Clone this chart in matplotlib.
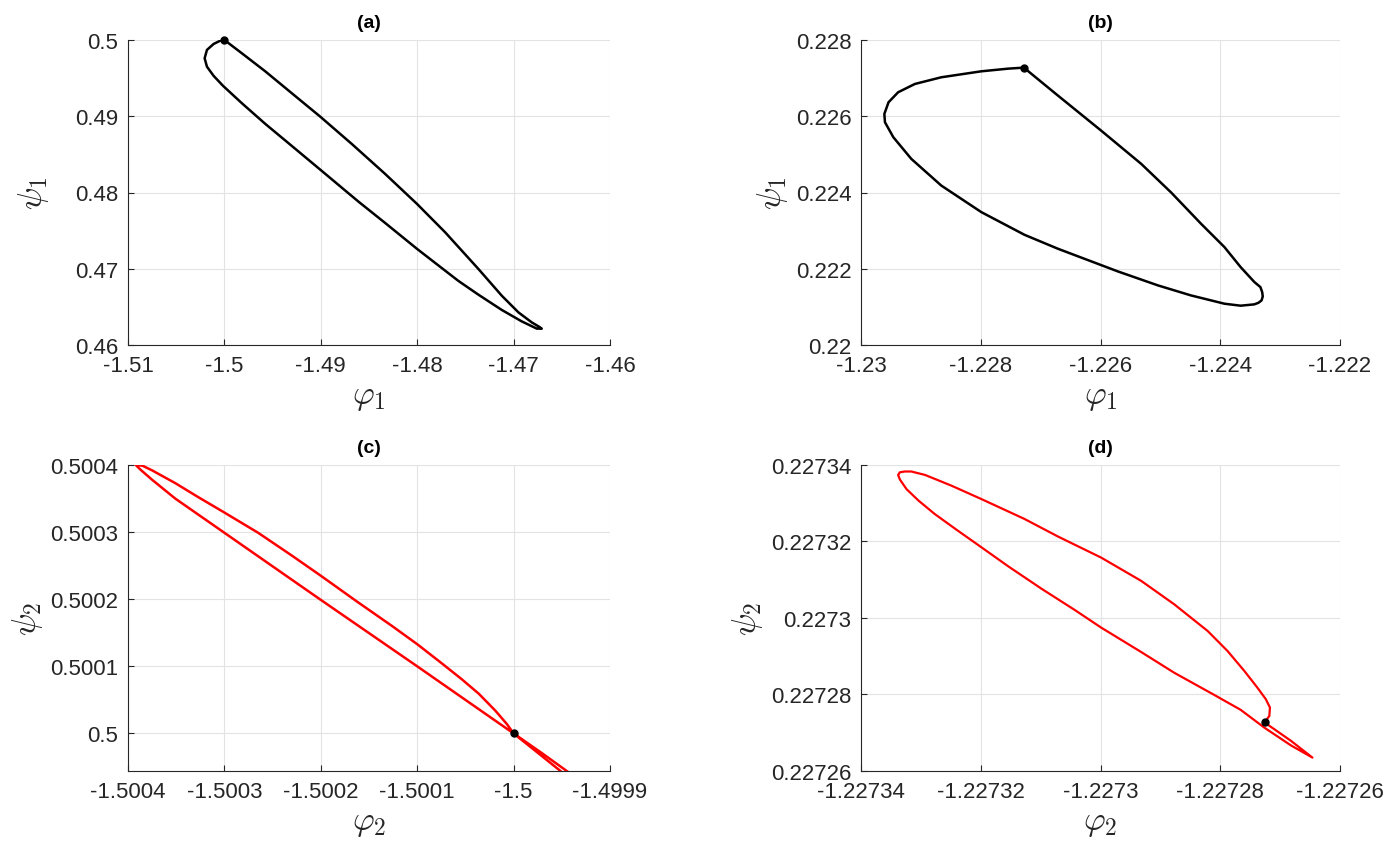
import matplotlib
matplotlib.use("Agg")
import matplotlib.pyplot as plt

plt.rcParams['font.family'] = ['Liberation Sans', 'DejaVu Sans']
plt.rcParams['mathtext.fontset'] = 'cm'

# ---- panel (a): phi1 / psi1, first orbit (black)
phi1_a = [-1.50000, -1.49818, -1.49576, -1.49300, -1.49006, -1.48678, -1.48332, -1.48001,
          -1.47710, -1.47365, -1.47123, -1.46950, -1.46812, -1.46726, -1.46708,
          -1.46760, -1.46916, -1.47123, -1.47365, -1.47572, -1.47797, -1.48001, -1.48332,
          -1.48609, -1.49006, -1.49300, -1.49576, -1.49818, -1.50015, -1.50112, -1.50181,
          -1.50205, -1.50181, -1.50112, -1.50043, -1.50000]
psi1_a = [0.50000, 0.49825, 0.49589, 0.49301, 0.48995, 0.48636, 0.48243, 0.47849,
          0.47478, 0.46997, 0.46647, 0.46428, 0.46297, 0.46232, 0.46214,
          0.46215, 0.46310, 0.46460, 0.46660, 0.46840, 0.47060, 0.47260, 0.47600,
          0.47880, 0.48300, 0.48610, 0.48900, 0.49170, 0.49400, 0.49530, 0.49650,
          0.49760, 0.49870, 0.49948, 0.49991, 0.50000]
start_a = (-1.5, 0.5)

# ---- panel (b): phi1 / psi1, second orbit (black)
phi1_b = [-1.22728, -1.22671, -1.22599, -1.22532, -1.22482, -1.22432, -1.22393, -1.22366,
          -1.22343, -1.22333, -1.22330, -1.22329, -1.22331, -1.22336, -1.22343, -1.22366,
          -1.22393, -1.22449, -1.22504, -1.22571, -1.22671, -1.22727, -1.22799, -1.22866,
          -1.22916, -1.22946, -1.22960, -1.22961, -1.22954, -1.22938, -1.22910, -1.22866,
          -1.22799, -1.22754, -1.22728]
psi1_b = [0.227275, 0.226541, 0.225624, 0.224751, 0.224000, 0.223179, 0.222568, 0.222044,
          0.221651, 0.221520, 0.221389, 0.221275, 0.221170, 0.221109, 0.221066, 0.221031,
          0.221083, 0.221301, 0.221563, 0.221930, 0.222524, 0.222891, 0.223485, 0.224183,
          0.224882, 0.225450, 0.225843, 0.226061, 0.226367, 0.226629, 0.226847, 0.227022,
          0.227179, 0.227249, 0.227275]
start_b = (-1.22728, 0.227275)

# ---- panel (c): phi2 / psi2, first orbit (red)
phi2_c = [-1.500000, -1.499971, -1.499940, -1.499947, -1.500000, -1.500100, -1.500201,
          -1.500301, -1.500351, -1.500375, -1.500387, -1.500392, -1.500385, -1.500375,
          -1.500351, -1.500327, -1.500301, -1.500265, -1.500230, -1.500201, -1.500161,
          -1.500126, -1.500100, -1.500075, -1.500054, -1.500036, -1.500019, -1.500007,
          -1.500000]
psi2_c = [0.500000, 0.499971, 0.499939, 0.499939, 0.500000, 0.500100, 0.500200,
          0.500300, 0.500350, 0.500378, 0.500393, 0.500400, 0.500399, 0.500392,
          0.500373, 0.500352, 0.500330, 0.500299, 0.500265, 0.500236, 0.500195,
          0.500160, 0.500133, 0.500105, 0.500081, 0.500059, 0.500034, 0.500014,
          0.500000]
start_c = (-1.5, 0.5)

# ---- panel (d): phi2 / psi2, second orbit (red)
phi2_d = [-1.2272726, -1.2272682, -1.2272646, -1.2272682, -1.2272726, -1.2272766, -1.2272809,
          -1.2272877, -1.2272932, -1.2272999, -1.2273043, -1.2273099, -1.2273154, -1.2273199,
          -1.2273238, -1.2273277, -1.2273304, -1.2273324, -1.2273335, -1.2273338, -1.2273335,
          -1.2273327, -1.2273316, -1.2273293, -1.2273249, -1.2273199, -1.2273127, -1.2273071,
          -1.2272999, -1.2272932, -1.2272877, -1.2272821, -1.2272788, -1.2272760, -1.2272738,
          -1.2272724, -1.2272717, -1.2272718, -1.2272724, -1.2272726]
psi2_d = [0.2272727, 0.2272679, 0.2272635, 0.2272667, 0.2272713, 0.2272760, 0.2272798,
          0.2272857, 0.2272911, 0.2272975, 0.2273021, 0.2273077, 0.2273135, 0.2273185,
          0.2273228, 0.2273272, 0.2273307, 0.2273337, 0.2273362, 0.2273374, 0.2273381,
          0.2273383, 0.2273383, 0.2273374, 0.2273346, 0.2273311, 0.2273259, 0.2273213,
          0.2273158, 0.2273097, 0.2273036, 0.2272966, 0.2272914, 0.2272862, 0.2272818,
          0.2272788, 0.2272766, 0.2272744, 0.2272731, 0.2272727]
start_d = (-1.2272726, 0.2272727)

# ticks
xt_a = [-1.51, -1.5, -1.49, -1.48, -1.47, -1.46]
yt_a = [0.46, 0.47, 0.48, 0.49, 0.5]
xt_b = [-1.23, -1.228, -1.226, -1.224, -1.222]
yt_b = [0.22, 0.222, 0.224, 0.226, 0.228]
xt_c = [-1.5004, -1.5003, -1.5002, -1.5001, -1.5, -1.4999]
yt_c = [0.5, 0.5001, 0.5002, 0.5003, 0.5004]
xt_d = [-1.22734, -1.22732, -1.2273, -1.22728, -1.22726]
yt_d = [0.22726, 0.22728, 0.2273, 0.22732, 0.22734]

fig = plt.figure(figsize=(13.97, 8.53), dpi=100)
W, H = 1397.0, 853.0


def make_ax(l, r, t, b):
    return fig.add_axes([l / W, 1 - b / H, (r - l) / W, (b - t) / H])


def style(ax, title, xl, yl, xt, yt, xlim, ylim):
    ax.set_xlim(*xlim)
    ax.set_ylim(*ylim)
    ax.set_xticks(xt)
    ax.set_xticklabels(['%g' % v for v in xt])
    ax.set_yticks(yt)
    ax.set_yticklabels(['%g' % v for v in yt])
    ax.grid(True, color='#e3e3e3', lw=0.8)
    ax.set_axisbelow(True)
    for s in ['top', 'right']:
        ax.spines[s].set_visible(False)
    for s in ['left', 'bottom']:
        ax.spines[s].set_color('#262626')
        ax.spines[s].set_linewidth(0.8)
    ax.tick_params(direction='in', length=4, width=0.8, colors='#262626',
                   labelsize=16, pad=7)
    ax.set_title(title, fontsize=14, fontweight='bold', pad=9)
    ax.set_xlabel(xl, fontsize=24, color='#262626', labelpad=4)
    ax.set_ylabel(yl, fontsize=24, color='#262626', labelpad=4)


lab_phi1 = r'$\varphi_{\boldsymbol{1}}$'
lab_psi1 = r'$\psi_{\boldsymbol{1}}$'
lab_phi2 = r'$\varphi_{\boldsymbol{2}}$'
lab_psi2 = r'$\psi_{\boldsymbol{2}}$'

ax = make_ax(128, 610, 41, 346)
ax.plot(phi1_a, psi1_a, color='k', lw=1.8)
ax.plot(*start_a, 'o', color='k', ms=5, clip_on=False)
style(ax, '(a)', lab_phi1, lab_psi1, xt_a, yt_a, (-1.51, -1.46), (0.46, 0.5))
ax.yaxis.set_label_coords(-0.16, 0.5)

ax = make_ax(861, 1340, 41, 346)
ax.plot(phi1_b, psi1_b, color='k', lw=1.8)
ax.plot(*start_b, 'o', color='k', ms=5)
style(ax, '(b)', lab_phi1, lab_psi1, xt_b, yt_b, (-1.23, -1.222), (0.22, 0.228))

ax = make_ax(128, 610, 466, 772)
ax.plot(phi2_c, psi2_c, color='r', lw=1.8)
ax.plot(*start_c, 'o', color='k', ms=5)
style(ax, '(c)', lab_phi2, lab_psi2, xt_c, yt_c, (-1.5004, -1.4999), (0.499944, 0.5004))

ax = make_ax(861, 1340, 466, 772)
ax.plot(phi2_d, psi2_d, color='r', lw=1.6)
ax.plot(*start_d, 'o', color='k', ms=5)
style(ax, '(d)', lab_phi2, lab_psi2, xt_d, yt_d, (-1.22734, -1.22726), (0.22726, 0.22734))

fig.savefig('out.png', dpi=100)
